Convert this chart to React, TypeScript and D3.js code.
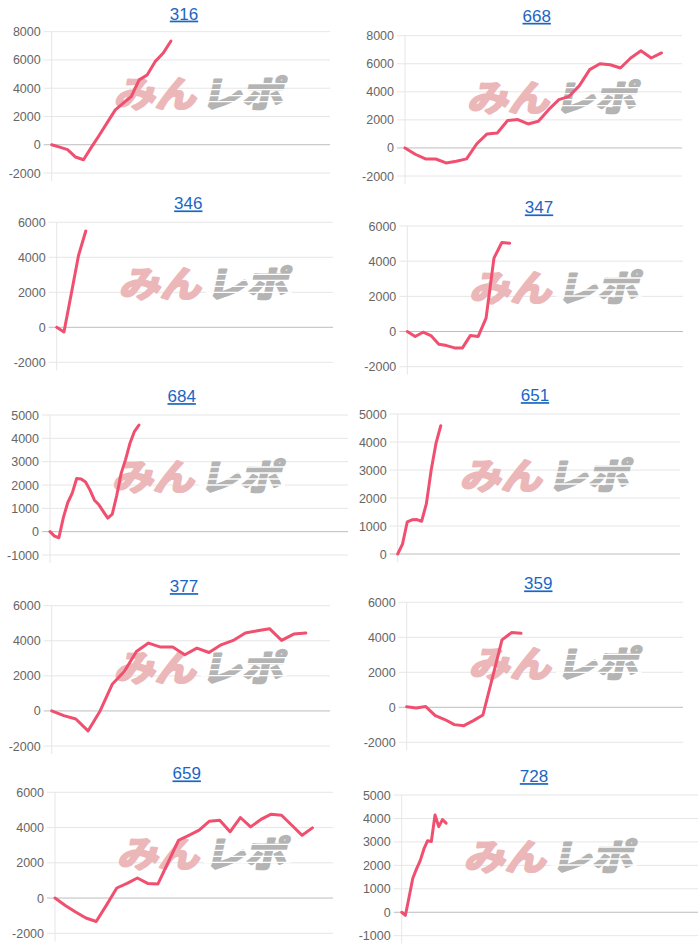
import React from "react";
import * as d3 from "d3";

// ---- Data ----
const titles = ["316", "668", "346", "347", "684", "651", "377", "359", "659", "728"];

const series316 = [0, -170, -350, -870, -1060, -170, 690, 1580, 2470, 2940, 3410, 4590, 4940, 5880, 6470, 7340];
const series668 = [0, -450, -780, -790, -1070, -950, -780, 300, 1000, 1070, 1950, 2020, 1710, 1900, 2730, 3440, 3680, 4440, 5580, 6000, 5930, 5700, 6410, 6930, 6410, 6770];
const series346 = [0, -270, 1900, 4100, 5500];
const series347 = [0, -280, -40, -230, -720, -800, -930, -930, -230, -280, 760, 4170, 5060, 5020];
const series684 = [0, -190, -260, 600, 1250, 1650, 2280, 2260, 2130, 1780, 1350, 1150, 860, 580, 750, 1550, 2500, 3100, 3800, 4300, 4570];
const series651 = [0, 350, 1150, 1220, 1230, 1170, 1800, 3000, 3950, 4580];
const series377 = [0, -270, -460, -1140, 0, 1520, 2250, 3390, 3870, 3640, 3640, 3200, 3580, 3330, 3770, 4020, 4440, 4570, 4690, 4020, 4380, 4440];
const series359 = [30, -40, 40, -480, -700, -990, -1050, -760, -440, 1700, 3850, 4270, 4230];
const series659 = [0, -420, -790, -1130, -1330, -400, 570, 830, 1140, 830, 800, 2040, 3280, 3560, 3850, 4360, 4420, 3760, 4570, 4040, 4460, 4760, 4700, 4130, 3560, 3980];
const series728 = [0, -130, 650, 1450, 1850, 2200, 2700, 3050, 3020, 4150, 3650, 3950, 3800];

const allSeries = [series316, series668, series346, series347, series684, series651, series377, series359, series659, series728];

// number of x categories on each chart's axis (data covers only the first part)
const categoryCounts = [36, 28, 39, 36, 68, 60, 24, 30, 28, 81];

// y-axis tick ranges
const yMins = [-2000, -2000, -2000, -2000, -1000, 0, -2000, -2000, -2000, -1000];
const yMaxs = [8000, 8000, 6000, 6000, 5000, 5000, 6000, 6000, 6000, 5000];
const ySteps = [2000, 2000, 2000, 2000, 1000, 1000, 2000, 2000, 2000, 1000];

// ---- Layout (plot boxes and title positions) ----
const layout = [
  { left: 51.7, right: 330, top: 31.7, bottom: 173, tx: 184, ty: 13.5 },
  { left: 405, right: 682, top: 35.7, bottom: 176, tx: 536.7, ty: 15.7 },
  { left: 56.7, right: 333, top: 222.3, bottom: 362.3, tx: 188.3, ty: 203.3 },
  { left: 407.3, right: 683, top: 226, bottom: 366.7, tx: 539, ty: 207.3 },
  { left: 50, right: 348, top: 415, bottom: 555, tx: 181.7, ty: 396 },
  { left: 397.7, right: 680, top: 414, bottom: 554, tx: 535, ty: 395 },
  { left: 51.7, right: 330, top: 605.7, bottom: 746, tx: 184, ty: 586 },
  { left: 406.7, right: 683, top: 602.3, bottom: 742.3, tx: 538.3, ty: 583.3 },
  { left: 55, right: 333, top: 792.3, bottom: 933.3, tx: 186.7, ty: 773.3 },
  { left: 401.7, right: 698, top: 795, bottom: 935.7, tx: 534, ty: 776 },
];

const LINE_COLOR = "#f04f6f";
const FONT = "'Liberation Sans', Arial, Helvetica, sans-serif";

function Watermark({ cx, cy }: { cx: number; cy: number }) {
  const x0 = cx - 85;
  const shift = cy * Math.tan((12 * Math.PI) / 180);
  return (
    <g transform={`translate(${shift},0) skewX(-12)`}>
      <text
        x={x0}
        y={cy + 14}
        fontFamily="'Noto Sans CJK JP', sans-serif"
        fontWeight={700}
        fontSize={36}
        fill="#ecb7b9"
        stroke="#ecb7b9"
        strokeWidth={2.4}
        strokeLinejoin="round"
        textLength={82}
        lengthAdjust="spacingAndGlyphs"
      >
        みん
      </text>
      <text
        x={x0 + 87}
        y={cy + 14}
        fontFamily="'Noto Sans CJK JP', sans-serif"
        fontWeight={700}
        fontSize={36}
        fill="#b4b4b4"
        stroke="#b4b4b4"
        strokeWidth={2.4}
        strokeLinejoin="round"
        textLength={82}
        lengthAdjust="spacingAndGlyphs"
      >
        レポ
      </text>
      {[-9, -3, 3, 9].map((d, i) => (
        <line
          key={i}
          x1={x0 + 86}
          x2={x0 + 172}
          y1={cy + d}
          y2={cy + d}
          stroke="#fff"
          strokeWidth={1.3}
        />
      ))}
    </g>
  );
}

function MiniChart({ idx }: { idx: number }) {
  const L = layout[idx];
  const data = allSeries[idx];
  const n = categoryCounts[idx];
  const y = d3.scaleLinear().domain([yMins[idx], yMaxs[idx]]).range([L.bottom, L.top]);
  const x = d3.scaleLinear().domain([0, n - 1]).range([L.left, L.right]);
  const ticks = d3.range(yMins[idx], yMaxs[idx] + 1, ySteps[idx]);
  const line = d3
    .line<number>()
    .x((_, i) => x(i))
    .y((d) => y(d));
  return (
    <g>
      <line x1={L.left} x2={L.left} y1={L.top} y2={L.bottom + 8} stroke="#e6e6e6" strokeWidth={1} />
      {ticks.map((t) => (
        <g key={t}>
          <line
            x1={L.left - 8}
            x2={L.right}
            y1={y(t)}
            y2={y(t)}
            stroke={t === 0 ? "#bdbdbd" : "#e6e6e6"}
            strokeWidth={1}
          />
          <text
            x={L.left - 11}
            y={y(t)}
            dy="0.36em"
            textAnchor="end"
            fontFamily={FONT}
            fontSize={12.5}
            fill="#666"
          >
            {t}
          </text>
        </g>
      ))}
      <Watermark cx={L.left + 150} cy={L.top + 61} />
      <path
        d={line(data) || ""}
        fill="none"
        stroke={LINE_COLOR}
        strokeWidth={3}
        strokeLinejoin="round"
        strokeLinecap="round"
      />
      <text
        x={L.tx}
        y={L.ty}
        dy="0.36em"
        textAnchor="middle"
        fontFamily={FONT}
        fontSize={17}
        fill="#1a66c4"
        textDecoration="underline"
      >
        {titles[idx]}
      </text>
    </g>
  );
}

export default function App() {
  return (
    <svg
      width={700}
      height={950}
      style={{ position: "absolute", left: 0, top: 0, display: "block", background: "#fff" }}
    >
      <rect width={700} height={950} fill="#fff" />
      {titles.map((_, i) => (
        <MiniChart key={i} idx={i} />
      ))}
    </svg>
  );
}
